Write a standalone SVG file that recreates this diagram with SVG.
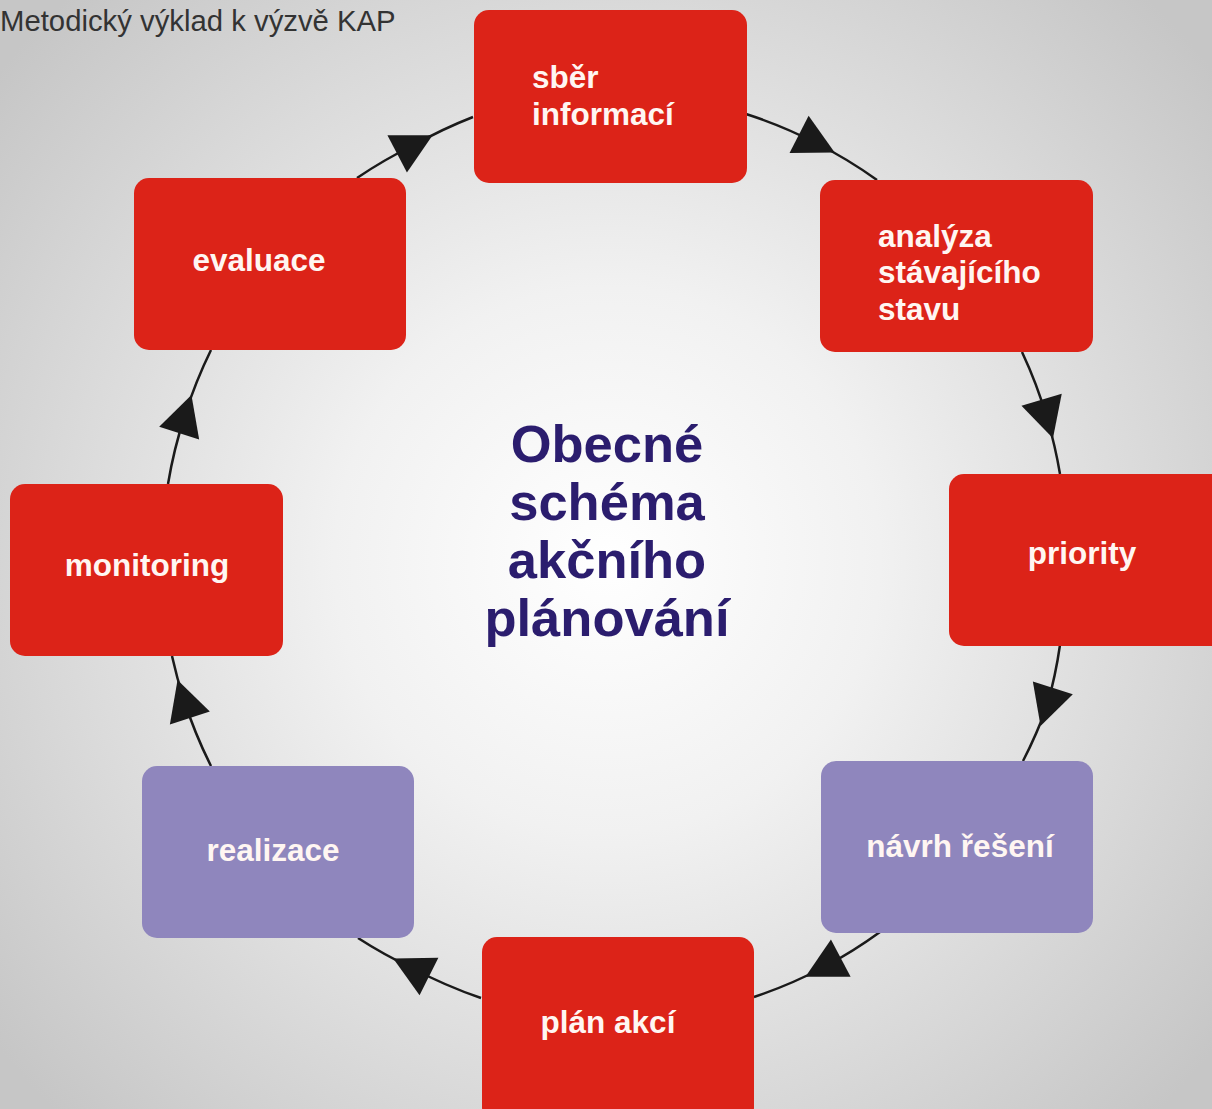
<svg xmlns="http://www.w3.org/2000/svg" width="1212" height="1109" viewBox="0 0 1212 1109">
<defs>
<radialGradient id="bg" cx="607" cy="560" r="780" gradientUnits="userSpaceOnUse">
<stop offset="0" stop-color="#ffffff"/>
<stop offset="0.35" stop-color="#f1f1f1"/>
<stop offset="1" stop-color="#c6c6c6"/>
</radialGradient>
<marker id="arr" markerUnits="userSpaceOnUse" markerWidth="46" markerHeight="46" viewBox="-2 -23 46 46" refX="19" refY="0" orient="auto">
<path d="M0,-21 L40,0 L0,21 Z" fill="#1a1a1a"/>
</marker>
<style>
.red{fill:#dc2318}
.pur{fill:#8f86bd}
.lbl{font-family:"Liberation Sans",Arial,sans-serif;font-weight:bold;font-size:31.5px;fill:#fff6f2}
.mid{text-anchor:middle}
.conn{fill:none;stroke:#1a1a1a;stroke-width:2.5;marker-mid:url(#arr)}
.title{font-family:"Liberation Sans",Arial,sans-serif;font-weight:bold;font-size:52.5px;fill:#2b1d6e;text-anchor:middle}
</style>
</defs>
<rect x="0" y="0" width="1212" height="1109" fill="url(#bg)"/>
<text x="0" y="31" font-family="Liberation Sans, Arial, sans-serif" font-size="29.3" fill="#333333">Metodický výklad k výzvě KAP</text>

<g id="connectors">
<path class="conn" d="M746,114 A460,460 0 0 1 816,143 A460,460 0 0 1 877,180"/>
<path class="conn" d="M1022,352 A460,460 0 0 1 1047,418 A460,460 0 0 1 1060,474"/>
<path class="conn" d="M1060,645 A460,460 0 0 1 1047,706 A460,460 0 0 1 1023,761"/>
<path class="conn" d="M880,932 A460,460 0 0 1 824,967 A460,460 0 0 1 754,997"/>
<path class="conn" d="M481,998 A460,460 0 0 1 412,968 A460,460 0 0 1 358,938"/>
<path class="conn" d="M211,766 A460,460 0 0 1 184,700 A460,460 0 0 1 172,656"/>
<path class="conn" d="M168,484 A460,460 0 0 1 185,415 A460,460 0 0 1 211,350"/>
<path class="conn" d="M357,178 A460,460 0 0 1 414,145 A460,460 0 0 1 473,117"/>
</g>

<g id="sber">
<rect class="red" x="474" y="10" width="273" height="173" rx="15"/>
<text class="lbl" x="532" y="88">sběr</text>
<text class="lbl" x="532" y="125">informací</text>
</g>
<g id="analyza">
<rect class="red" x="820" y="180" width="273" height="172" rx="15"/>
<text class="lbl" x="878" y="247">analýza</text>
<text class="lbl" x="878" y="283">stávajícího</text>
<text class="lbl" x="878" y="320">stavu</text>
</g>
<g id="priority">
<rect class="red" x="949" y="474" width="280" height="172" rx="15"/>
<text class="lbl mid" x="1082" y="564">priority</text>
</g>
<g id="navrh">
<rect class="pur" x="821" y="761" width="272" height="172" rx="15"/>
<text class="lbl mid" x="960" y="857">návrh řešení</text>
</g>
<g id="plan">
<rect class="red" x="482" y="937" width="272" height="185" rx="15"/>
<text class="lbl mid" x="608" y="1033">plán akcí</text>
</g>
<g id="realizace">
<rect class="pur" x="142" y="766" width="272" height="172" rx="15"/>
<text class="lbl mid" x="273" y="861">realizace</text>
</g>
<g id="monitoring">
<rect class="red" x="10" y="484" width="273" height="172" rx="15"/>
<text class="lbl mid" x="147" y="576">monitoring</text>
</g>
<g id="evaluace">
<rect class="red" x="134" y="178" width="272" height="172" rx="15"/>
<text class="lbl mid" x="259" y="271">evaluace</text>
</g>

<g id="center">
<text class="title" x="607" y="462">Obecné</text>
<text class="title" x="607" y="520">schéma</text>
<text class="title" x="607" y="578">akčního</text>
<text class="title" x="607" y="636">plánování</text>
</g>
</svg>
